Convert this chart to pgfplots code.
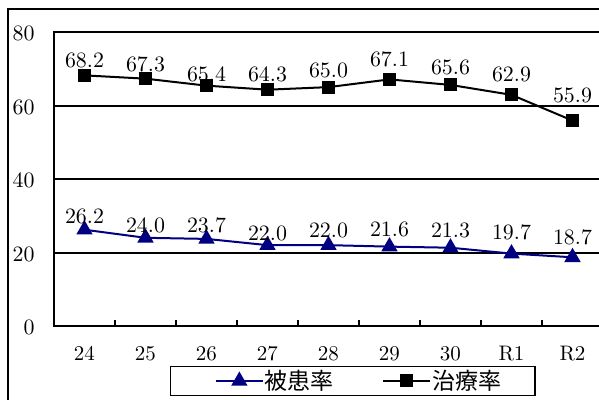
\documentclass[border=0pt]{standalone}
\usepackage{pgfplots}
\pgfplotsset{compat=1.18}
\usepackage{pgfplotstable}
\usepackage{fontspec}
\newfontfamily\cjk{Noto Sans CJK JP}
\definecolor{navy}{HTML}{000080}

\pgfplotstableread{
x y s
0 26.2 6.85
1 24.0 6.0
2 23.7 6.5
3 22.0 5.75
4 22.0 7.5
5 21.6 8.5
6 21.3 8.5
7 19.7 10.5
8 18.7 10.0
}\hikan
\pgfplotstableread{
x y s
0 68.2 7.25
1 67.3 7.25
2 65.4 5.75
3 64.3 7.85
4 65.0 8.5
5 67.1 10.0
6 65.6 8.75
7 62.9 10.0
8 55.9 12.5
}\chiryo

\begin{document}
\begin{tikzpicture}
\useasboundingbox (0,0) rectangle (299.5pt,-200pt);
\clip (0,0) rectangle (299.5pt,-200pt);
\fill[white] (0,0) rectangle (299.5pt,-200pt);
\draw[line width=0.7pt] (4pt,-4.5pt) rectangle (320pt,-220pt);
\begin{axis}[
  at={(27pt,-163pt)}, anchor=south west,
  scale only axis, width=274.5pt, height=147pt,
  xmin=-0.5, xmax=8.5, ymin=0, ymax=80,
  ytick={0,20,40,60,80},
  xtick={0,...,8},
  xticklabels={24,25,26,27,28,29,30,R1,R2},
  minor xtick={0.5,1.5,...,7.5},
  major tick length=0pt,
  minor tick length=3pt,
  tick align=inside,
  xtick pos=bottom, ytick pos=left,
  tick style={black, line width=0.6pt},
  axis line style={line width=1pt},
  ymajorgrids,
  grid style={black, line width=1pt},
  tick label style={font=\fontsize{10.5}{12}\selectfont},
  yticklabel style={xshift=-6.2pt, yshift=-0.8pt},
  xticklabel style={yshift=-6.5pt},
  legend columns=2,
  legend style={at={(0.5446,-0.187)}, anchor=center, draw=black, line width=0.6pt,
    inner xsep=22pt, inner ysep=1.2pt,
    nodes={inner ysep=0.3pt},
    /tikz/every odd column/.append style={column sep=-1.5pt},
    font=\cjk\fontsize{11.5}{13}\selectfont},
  legend image code/.code={%
     \draw[mark repeat=2,mark phase=2,#1] plot coordinates {(0pt,0pt)(11.75pt,0pt)(23.5pt,0pt)};},
  nodes near coords,
  point meta=explicit,
  nodes near coords style={font=\fontsize{10.5}{12}\selectfont, text=black, anchor=center, yshift=\sh pt,
    /pgf/number format/fixed, /pgf/number format/fixed zerofill, /pgf/number format/precision=1},
  visualization depends on={\thisrow{s}\as\sh},
]
\addplot[navy, line width=1pt, mark=triangle*, mark size=3.75pt, mark options={solid, fill=navy}]
  table[x=x, y=y, meta=y]{\hikan};
\addlegendentry{\makebox[56.8pt][l]{被患率}}
\addplot[black, line width=1pt, mark=square*, mark size=2.75pt, mark options={solid, fill=black}]
  table[x=x, y=y, meta=y]{\chiryo};
\addlegendentry{\makebox[27.3pt][l]{治療率}}
\end{axis}
\end{tikzpicture}
\end{document}
